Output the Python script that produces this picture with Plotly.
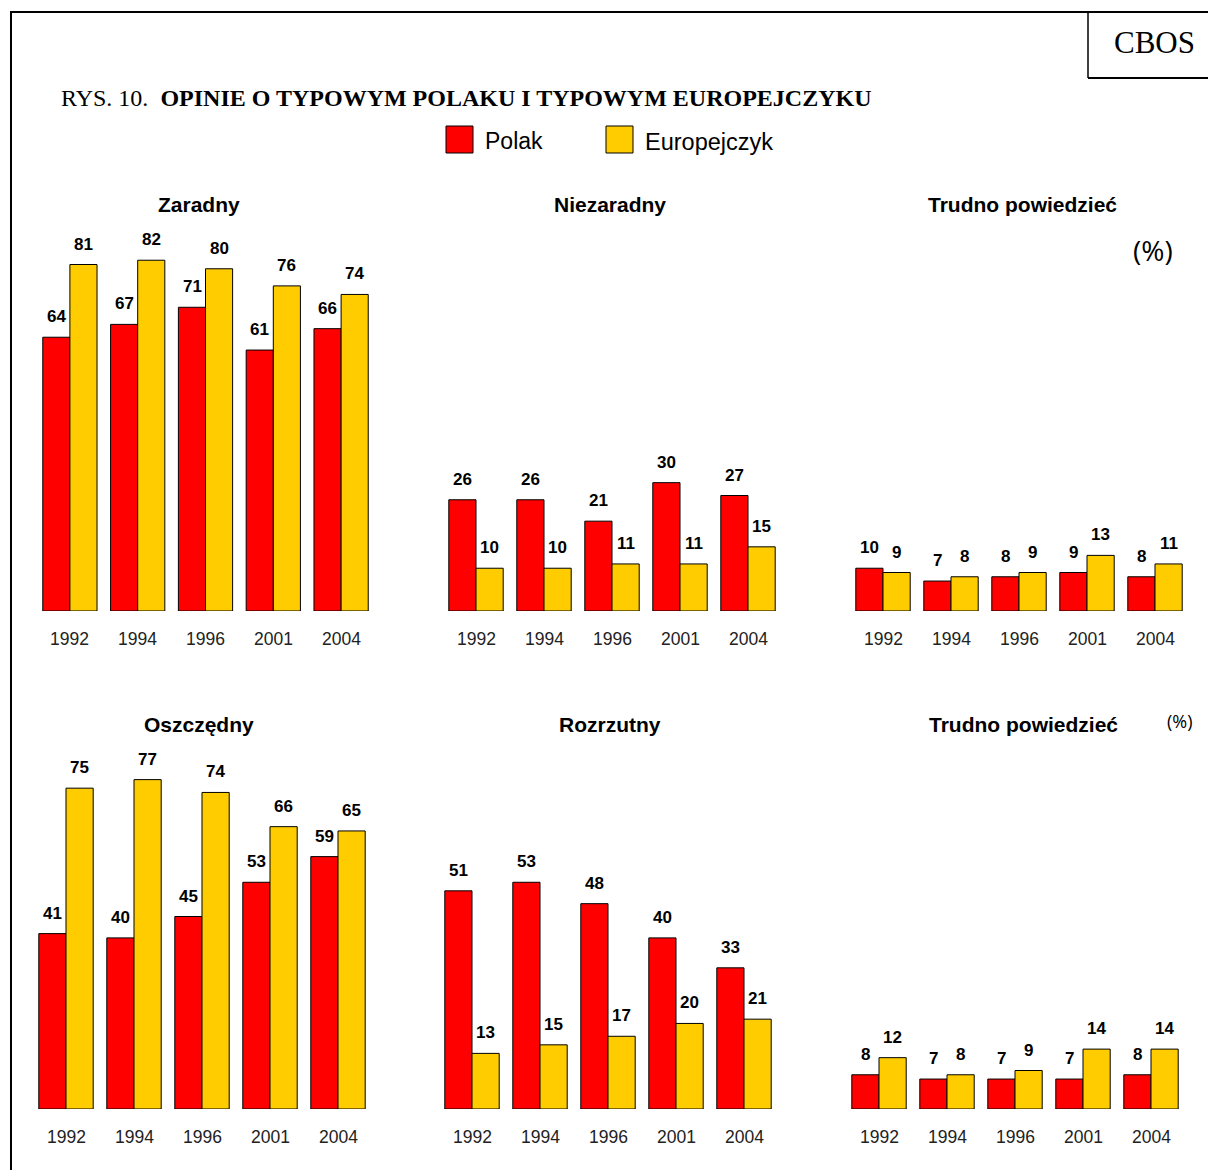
import plotly.graph_objects as go

W, H = 1208, 1170

years = ["1992", "1994", "1996", "2001", "2004"]

zaradny_polak = [64, 67, 71, 61, 66]
zaradny_europ = [81, 82, 80, 76, 74]
niezaradny_polak = [26, 26, 21, 30, 27]
niezaradny_europ = [10, 10, 11, 11, 15]
trudno1_polak = [10, 7, 8, 9, 8]
trudno1_europ = [9, 8, 9, 13, 11]
oszczedny_polak = [41, 40, 45, 53, 59]
oszczedny_europ = [75, 77, 74, 66, 65]
rozrzutny_polak = [51, 53, 48, 40, 33]
rozrzutny_europ = [13, 15, 17, 20, 21]
trudno2_polak = [8, 7, 7, 7, 8]
trudno2_europ = [12, 8, 9, 14, 14]

panel_titles = ["Zaradny", "Niezaradny", "Trudno powiedzieć",
                "Oszczędny", "Rozrzutny", "Trudno powiedzieć"]
panel_data = [
    (zaradny_polak, zaradny_europ),
    (niezaradny_polak, niezaradny_europ),
    (trudno1_polak, trudno1_europ),
    (oszczedny_polak, oszczedny_europ),
    (rozrzutny_polak, rozrzutny_europ),
    (trudno2_polak, trudno2_europ),
]

RED = "#FF0000"
YEL = "#FFCC00"
SANS = "Liberation Sans, Arial, sans-serif"
SERIF = "Liberation Serif, Times New Roman, serif"

x_dom_px = [(36, 375), (442, 782), (849, 1189),
            (32, 372), (438, 778), (845, 1185)]
y_dom_px = [(226, 611), (226, 611), (226, 611),
            (724, 1109), (724, 1109), (724, 1109)]
YMAX = 90
BW = 0.4  # bar width in category units

def px_x(p):
    return p / W

def px_y(p):
    return 1 - p / H

idx = list(range(len(years)))

fig = go.Figure()
layout = dict(
    width=W, height=H, autosize=False,
    margin=dict(l=0, r=0, t=0, b=0, pad=0),
    paper_bgcolor="white", plot_bgcolor="white",
    showlegend=False,
)
annotations = []
shapes = []

for i, ((pol, eur), title) in enumerate(zip(panel_data, panel_titles)):
    n = i + 1
    xa = "x" if n == 1 else f"x{n}"
    ya = "y" if n == 1 else f"y{n}"
    xk = "xaxis" if n == 1 else f"xaxis{n}"
    yk = "yaxis" if n == 1 else f"yaxis{n}"
    fig.add_trace(go.Bar(x=idx, y=pol, name="Polak", marker_color=RED,
                         width=BW, offset=-BW,
                         marker_line=dict(color="black", width=1),
                         xaxis=xa, yaxis=ya, hoverinfo="skip"))
    fig.add_trace(go.Bar(x=idx, y=eur, name="Europejczyk", marker_color=YEL,
                         width=BW, offset=0,
                         marker_line=dict(color="black", width=1),
                         xaxis=xa, yaxis=ya, hoverinfo="skip"))
    x0, x1 = x_dom_px[i]
    yt, yb = y_dom_px[i]
    layout[xk] = dict(
        type="linear", range=[-0.5, len(years) - 0.5],
        domain=[px_x(x0), px_x(x1)], anchor=ya,
        showline=False, showgrid=False, zeroline=False,
        showticklabels=False, ticks="", fixedrange=True,
    )
    layout[yk] = dict(
        type="linear", domain=[px_y(yb), px_y(yt)], anchor=xa,
        range=[0, YMAX], visible=False, fixedrange=True,
    )
    for k, yr in enumerate(years):
        annotations.append(dict(
            x=k, y=0, xref=xa, yref=ya, text=yr, showarrow=False,
            yshift=-28, yanchor="middle",
            font=dict(family=SANS, size=17.5, color="#222"),
        ))
        for v, sh in ((pol[k], -13.5), (eur[k], 13.5)):
            annotations.append(dict(
                x=k, y=v, xref=xa, yref=ya, text=f"<b>{v}</b>",
                showarrow=False, xshift=sh, yshift=9, yanchor="bottom",
                font=dict(family=SANS, size=17, color="black"),
            ))
    tx = {0: 199, 1: 610, 2: 1022, 3: 199, 4: 610, 5: 1023}[i]
    ty = 204 if i < 3 else 724
    annotations.append(dict(
        x=px_x(tx), y=px_y(ty), xref="paper", yref="paper",
        text=f"<b>{title}</b>", showarrow=False,
        xanchor="center", yanchor="middle",
        font=dict(family=SANS, size=21, color="black"),
    ))

annotations += [
    dict(x=px_x(59), y=px_y(98), xref="paper", yref="paper", showarrow=False,
         xanchor="left", yanchor="middle",
         text="RYS. 10.  <b>OPINIE O TYPOWYM POLAKU I TYPOWYM EUROPEJCZYKU</b>",
         font=dict(family=SERIF, size=24, color="black")),
    dict(x=px_x(1154), y=px_y(43), xref="paper", yref="paper", showarrow=False,
         xanchor="center", yanchor="middle", text="CBOS",
         font=dict(family=SERIF, size=31, color="black")),
    dict(x=px_x(483), y=px_y(141), xref="paper", yref="paper", showarrow=False,
         xanchor="left", yanchor="middle", text="Polak",
         font=dict(family=SANS, size=23, color="black")),
    dict(x=px_x(643), y=px_y(142), xref="paper", yref="paper", showarrow=False,
         xanchor="left", yanchor="middle", text="Europejczyk",
         font=dict(family=SANS, size=23.5, color="black")),
    dict(x=px_x(1153), y=px_y(250), xref="paper", yref="paper", showarrow=False,
         xanchor="center", yanchor="middle", text="(%)",
         font=dict(family="Open Sans, sans-serif", size=28, color="black")),
    dict(x=px_x(1180), y=px_y(721), xref="paper", yref="paper", showarrow=False,
         xanchor="center", yanchor="middle", text="(%)",
         font=dict(family="Open Sans, sans-serif", size=18, color="black")),
]

for (lx, col) in ((446, RED), (606, YEL)):
    shapes.append(dict(type="rect", xref="paper", yref="paper",
                       x0=px_x(lx), x1=px_x(lx + 27),
                       y0=px_y(153), y1=px_y(126),
                       fillcolor=col, line=dict(color="black", width=1)))

line_style = dict(color="black", width=2)
shapes += [
    dict(type="line", xref="paper", yref="paper", x0=px_x(11), x1=px_x(11),
         y0=px_y(12), y1=0, line=line_style),
    dict(type="line", xref="paper", yref="paper", x0=px_x(10), x1=1,
         y0=px_y(12), y1=px_y(12), line=line_style),
    dict(type="line", xref="paper", yref="paper", x0=px_x(1088), x1=px_x(1088),
         y0=px_y(12), y1=px_y(78), line=dict(color="black", width=1.5)),
    dict(type="line", xref="paper", yref="paper", x0=px_x(1088), x1=1,
         y0=px_y(78), y1=px_y(78), line=line_style),
]

layout["annotations"] = annotations
layout["shapes"] = shapes
fig.update_layout(**layout)

post = ("document.documentElement.style.margin='0';"
        "document.body.style.margin='0';document.body.style.padding='0';"
        "document.body.style.overflow='hidden';")
fig.write_html("out.html", post_script=post,
               config={"displayModeBar": False, "responsive": False})
